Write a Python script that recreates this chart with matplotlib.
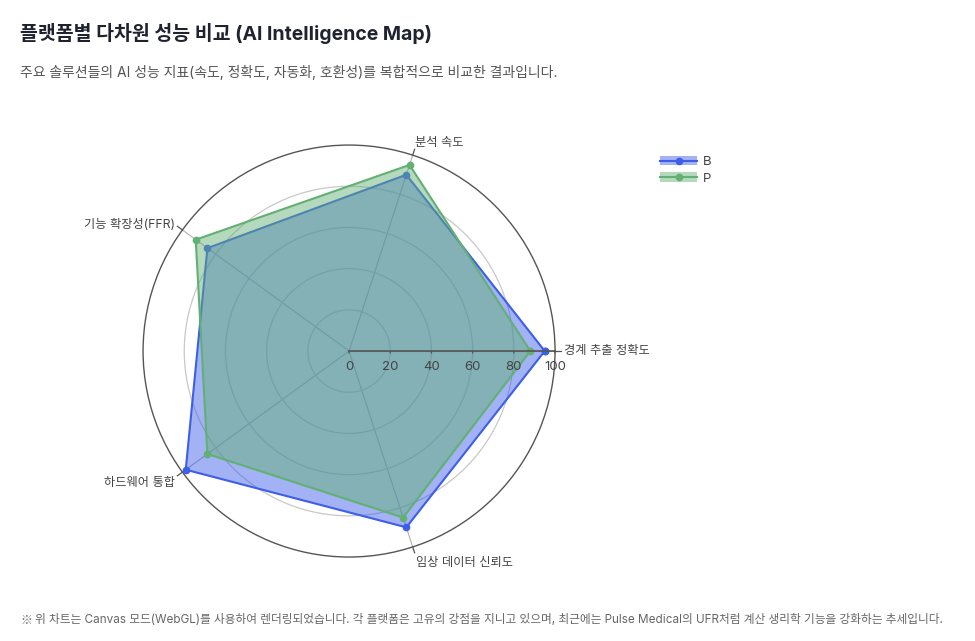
import numpy as np
import matplotlib
matplotlib.use("Agg")
import matplotlib.pyplot as plt
from matplotlib.patches import Patch
from matplotlib.lines import Line2D
from matplotlib.legend_handler import HandlerTuple

plt.rcParams['font.family'] = ['Inter', 'Noto Sans CJK KR', 'DejaVu Sans']

# Data
categories = ["경계 추출 정확도", "분석 속도", "기능 확장성(FFR)", "하드웨어 통합", "임상 데이터 신뢰도"]
series_names = ["B", "P"]
values_b = [95, 90, 85, 98, 90]
values_p = [88, 95, 92, 85, 85]
radial_ticks = [0, 20, 40, 60, 80, 100]

blue = "#3d5ee8"
green = "#62b074"

fig = plt.figure(figsize=(9.75, 6.41), dpi=100)
ax = fig.add_axes([0.1467, 0.131, 0.4226, 0.6427], projection="polar")

angles = np.deg2rad(np.arange(len(categories)) * 360 / len(categories))
ang_closed = np.append(angles, angles[0])

ax.set_ylim(0, 100)
ax.set_yticks(radial_ticks[1:-1])
ax.set_yticklabels([])
ax.set_xticks(angles)
ax.set_xticklabels([])
ax.grid(True, color="#c8c8c8", linewidth=0.9)
ax.xaxis.grid(True, color="#b0b0b0", linewidth=0.8)
ax.spines["polar"].set_color("#555555")
ax.spines["polar"].set_linewidth(1.0)
ax.set_axisbelow(True)
ax.tick_params(axis="both", length=0)

for vals, col, z in [(values_b, blue, 2), (values_p, green, 3)]:
    v = np.append(vals, vals[0])
    ax.fill(ang_closed, v, color=col, alpha=0.48, linewidth=0, zorder=z)
    ax.plot(ang_closed, v, color=col, linewidth=1.5, marker="o", markersize=4.5, zorder=z)

# radial axis line with ticks and labels along angle 0
ax.plot([0, 0], [0, 100], color="#555555", linewidth=1.2, zorder=5, clip_on=False)
for t in radial_ticks:
    ax.annotate(str(t), xy=(0, t), xytext=(0, -7), textcoords="offset points",
                ha="center", va="top", fontsize=9.5, color="#444444", zorder=6,
                annotation_clip=False)
    ax.annotate("", xy=(0, t), xytext=(0, -3.5), textcoords="offset points",
                arrowprops=dict(arrowstyle="-", color="#555555", lw=0.9),
                annotation_clip=False)

# angular tick marks and category labels
label_align = [("left", "center"), ("left", "bottom"), ("right", "center"),
               ("right", "top"), ("left", "top")]
label_offset = [2, 0.5, 2, 2, 3]
for a, cat, (ha, va), off in zip(angles, categories, label_align, label_offset):
    ax.plot([a, a], [100, 103], color="#555555", linewidth=0.9, clip_on=False, zorder=5)
    dx, dy = np.cos(a), np.sin(a)
    ax.annotate(cat, xy=(a, 103), xytext=(dx * off, dy * off), textcoords="offset points",
                ha=ha, va=va, fontsize=8.8, color="#444444", annotation_clip=False)

# legend
handles = [(Patch(facecolor=blue, alpha=0.48), Line2D([], [], color=blue, lw=1.5, marker="o", markersize=4.5)),
           (Patch(facecolor=green, alpha=0.48), Line2D([], [], color=green, lw=1.5, marker="o", markersize=4.5))]
fig.legend(handles, series_names, handler_map={tuple: HandlerTuple(ndivide=1)},
           loc="upper left", bbox_to_anchor=(0.665, 0.775), frameon=False,
           fontsize=9.5, labelcolor="#444444", handlelength=2.8, handleheight=0.7,
           labelspacing=0.3, handletextpad=0.4)

fig.text(20 / 975, 1 - 33 / 641, "플랫폼별 다차원 성능 비교 (AI Intelligence Map)",
         fontsize=14, fontweight="bold", color="#1f2330", va="center")
fig.text(20 / 975, 1 - 72 / 641, "주요 솔루션들의 AI 성능 지표(속도, 정확도, 자동화, 호환성)를 복합적으로 비교한 결과입니다.",
         fontsize=10, color="#555555", va="center")
fig.text(20 / 975, 1 - 620 / 641, "※", family=["Noto Sans CJK KR"],
         fontsize=8.5, color="#666666", va="center")
fig.text(35 / 975, 1 - 620 / 641,
         "위 차트는 Canvas 모드(WebGL)를 사용하여 렌더링되었습니다. 각 플랫폼은 고유의 강점을 지니고 있으며, 최근에는 Pulse Medical의 UFR처럼 계산 생리학 기능을 강화하는 추세입니다.",
         fontsize=8.45, color="#666666", va="center")

fig.savefig("out.png", dpi=100, facecolor="white")
